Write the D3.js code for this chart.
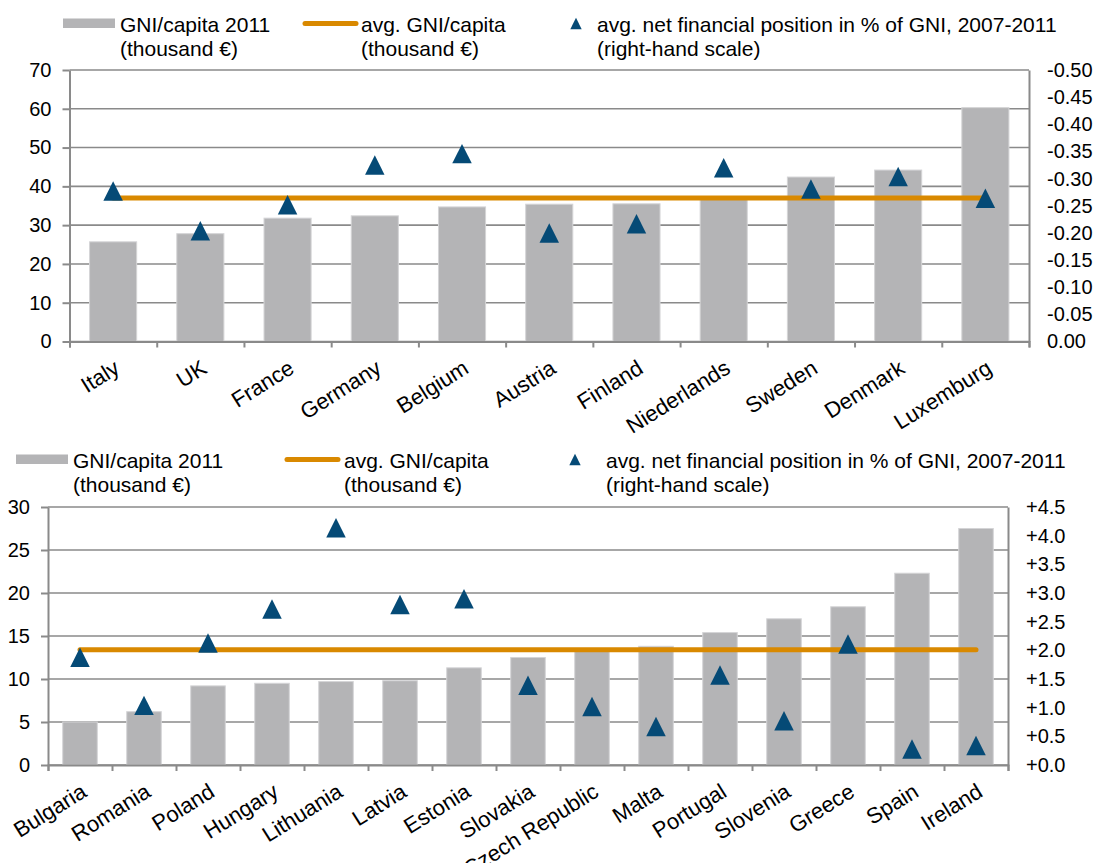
<!DOCTYPE html>
<html>
<head>
<meta charset="utf-8">
<script src="https://cdn.jsdelivr.net/npm/d3@7"></script>
<style>
  body { margin: 0; background: #fff; }
  svg text { font-family: "Liberation Sans", Arial, sans-serif; fill: #000; }
</style>
</head>
<body>
<svg id="chart" width="1100" height="863"></svg>
<script>
// top panel: richer countries, net financial position negative
var topCountries = ["Italy", "UK", "France", "Germany", "Belgium", "Austria", "Finland", "Niederlands", "Sweden", "Denmark", "Luxemburg"];
var topGni = [25.7, 27.8, 31.8, 32.4, 34.7, 35.4, 35.5, 36.8, 42.4, 44.2, 60.3];
var topNfp = [-0.277, -0.204, -0.252, -0.325, -0.346, -0.20, -0.217, -0.320, -0.281, -0.304, -0.264];
var topAvg = 37.0;
var topLeftTicks = [0, 10, 20, 30, 40, 50, 60, 70];
var topRightTicks = [0, -0.05, -0.10, -0.15, -0.20, -0.25, -0.30, -0.35, -0.40, -0.45, -0.50];

// bottom panel
var botCountries = ["Bulgaria", "Romania", "Poland", "Hungary", "Lithuania", "Latvia", "Estonia", "Slovakia", "Czech Republic", "Malta", "Portugal", "Slovenia", "Greece", "Spain", "Ireland"];
var botGni = [5.0, 6.2, 9.2, 9.5, 9.7, 9.8, 11.3, 12.5, 13.5, 13.8, 15.4, 17.0, 18.4, 22.3, 27.5];
var botNfp = [1.88, 1.04, 2.13, 2.72, 4.14, 2.80, 2.90, 1.39, 1.02, 0.67, 1.57, 0.77, 2.11, 0.28, 0.34];
var botAvg = 13.4;
var botLeftTicks = [0, 5, 10, 15, 20, 25, 30];
var botRightTicks = [0, 0.5, 1.0, 1.5, 2.0, 2.5, 3.0, 3.5, 4.0, 4.5];

var legendLabels = [
    ["GNI/capita 2011", "(thousand \u20ac)"],
    ["avg. GNI/capita", "(thousand \u20ac)"],
    ["avg. net financial position in % of GNI, 2007-2011", "(right-hand scale)"]
];

var barColor = "#b4b4b6", lineColor = "#d98900", triColor = "#054a76", gridColor = "#8a8a8a";

var svg = d3.select("#chart");

// triangle marker, as wide as it is tall
var tri = {
    draw: function (ctx, size) {
        var s = Math.sqrt(size);
        ctx.moveTo(0, -s / 2);
        ctx.lineTo(s / 2, s / 2);
        ctx.lineTo(-s / 2, s / 2);
        ctx.closePath();
    }
};

function drawPanel(p) {
    var g = svg.append("g");
    var n = p.cats.length;

    var x = d3.scaleBand().domain(p.cats).range([p.left, p.right]).paddingInner(0.46).paddingOuter(0.23);
    var xi = d3.scaleLinear().domain([0, n]).range([p.left, p.right]);
    var y = d3.scaleLinear().domain([0, p.leftMax]).range([p.bottom, p.top]);
    var y2 = d3.scaleLinear().domain([0, p.rightMax]).range([p.bottom, p.top]);

    // gridlines
    g.append("g")
        .selectAll("line")
        .data(p.leftTicks)
        .join("line")
        .attr("x1", p.left).attr("x2", p.right)
        .attr("y1", (d) => y(d)).attr("y2", (d) => y(d))
        .attr("stroke", gridColor).attr("stroke-width", 1.6);

    // bars
    g.append("g")
        .selectAll("rect")
        .data(p.cats)
        .join("rect")
        .attr("x", (d) => x(d))
        .attr("width", x.bandwidth())
        .attr("y", (d, i) => y(p.gni[i]))
        .attr("height", (d, i) => y(0) - y(p.gni[i]))
        .attr("fill", barColor)
        .attr("stroke", "#d4d4d6").attr("stroke-width", 1);

    // average line
    g.append("path")
        .datum(p.cats)
        .attr("fill", "none")
        .attr("stroke", lineColor)
        .attr("stroke-width", 5)
        .attr("stroke-linecap", "round")
        .attr("d", d3.line().x((d) => x(d) + x.bandwidth() / 2).y(() => y(p.avg)));

    // triangles
    g.append("g")
        .selectAll("path")
        .data(p.cats)
        .join("path")
        .attr("transform", (d, i) => "translate(" + (x(d) + x.bandwidth() / 2) + "," + y2(p.nfp[i]) + ")")
        .attr("d", d3.symbol().type(tri).size(380))
        .attr("fill", triColor);

    // left axis
    var la = g.append("g")
        .attr("transform", "translate(" + p.left + ",0)")
        .call(d3.axisLeft(y).tickValues(p.leftTicks).tickSize(7).tickPadding(11).tickSizeOuter(0));
    la.selectAll("text").style("font-size", "20px");

    // right axis (frame on the right, no ticks)
    var ra = g.append("g")
        .attr("transform", "translate(" + p.right + ",0)")
        .call(d3.axisRight(y2).tickValues(p.rightTicks).tickSize(0).tickPadding(18).tickFormat(p.rightFmt));
    ra.selectAll("line").remove();
    ra.selectAll("text").style("font-size", "20px");

    // bottom axis: ticks on category boundaries
    var ba = g.append("g")
        .attr("transform", "translate(0," + p.bottom + ")")
        .call(d3.axisBottom(xi).ticks(n).tickValues(d3.range(n + 1)).tickSize(6).tickFormat(""));

    [la, ra, ba].forEach(function (a) {
        a.selectAll("path, line").attr("stroke", gridColor).attr("stroke-width", 2);
        a.select(".domain").attr("stroke-width", 2);
        a.attr("font-family", null);
    });

    // rotated category labels
    g.append("g")
        .selectAll("text")
        .data(p.cats)
        .join("text")
        .attr("transform", (d) => "translate(" + (x(d) + x.bandwidth() / 2 + 4) + "," + (p.bottom + 24) + ") rotate(-32)")
        .attr("text-anchor", "end")
        .attr("dy", "0.35em")
        .style("font-size", "22px")
        .text((d) => d);

    // legend
    var lg = g.append("g");
    var ly = p.legendY;
    lg.append("rect")
        .attr("x", p.legX[0]).attr("y", ly - 5).attr("width", 52).attr("height", 9.5)
        .attr("fill", barColor);
    lg.append("line")
        .attr("x1", p.legX[1] + 2).attr("x2", p.legX[1] + 53)
        .attr("y1", ly).attr("y2", ly)
        .attr("stroke", lineColor).attr("stroke-width", 5).attr("stroke-linecap", "round");
    lg.append("path")
        .attr("transform", "translate(" + p.legX[2] + "," + ly + ")")
        .attr("d", d3.symbol().type(tri).size(130))
        .attr("fill", triColor);
    legendLabels.forEach(function (lab, i) {
        var t = lg.append("text")
            .attr("x", p.legTextX[i]).attr("y", ly + 8)
            .style("font-size", "21px");
        t.append("tspan").attr("x", p.legTextX[i]).text(lab[0]);
        t.append("tspan").attr("x", p.legTextX[i]).attr("dy", 24).text(lab[1]);
    });
}

var fmt2 = (d) => d3.format(".2f")(d).replace("\u2212", "-");
var fmtPlus = (d) => d3.format("+.1f")(d).replace("\u2212", "-");

drawPanel({
    cats: topCountries, gni: topGni, nfp: topNfp, avg: topAvg,
    leftTicks: topLeftTicks, rightTicks: topRightTicks,
    leftMax: 70, rightMax: -0.5, rightFmt: fmt2,
    left: 69.5, right: 1029, top: 70, bottom: 341.5,
    legendY: 23.5, legX: [63, 303, 576], legTextX: [120, 361, 597]
});

drawPanel({
    cats: botCountries, gni: botGni, nfp: botNfp, avg: botAvg,
    leftTicks: botLeftTicks, rightTicks: botRightTicks,
    leftMax: 30, rightMax: 4.5, rightFmt: fmtPlus,
    left: 48, right: 1008, top: 507, bottom: 765,
    legendY: 459.5, legX: [16, 285, 575], legTextX: [73, 344, 606]
});
</script>
</body>
</html>
